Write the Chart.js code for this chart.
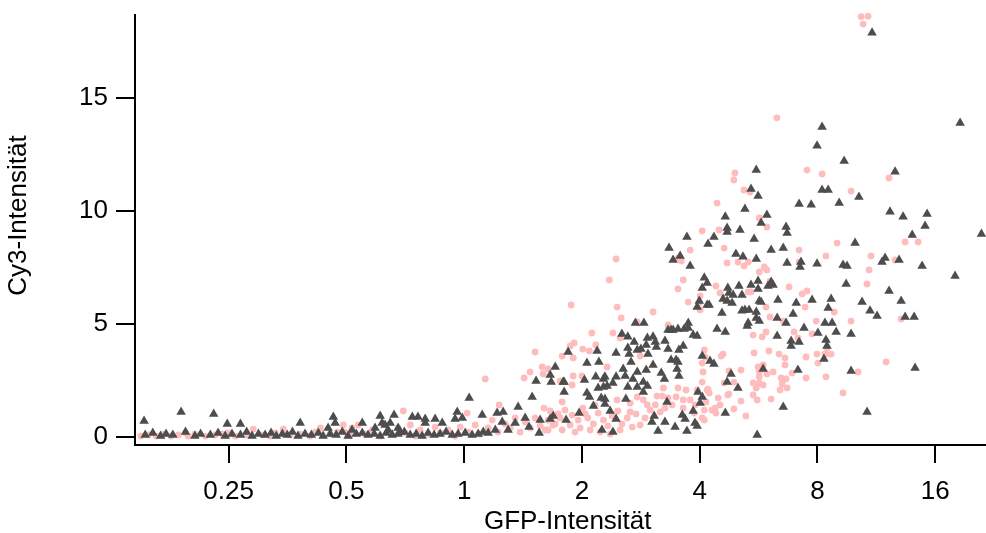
<!DOCTYPE html>
<html>
<head>
<meta charset="utf-8">
<script src="https://cdn.jsdelivr.net/npm/chart.js@4.4.1/dist/chart.umd.min.js"></script>
<style>
  body { margin: 0; background: #fff; }
  #wrap { width: 986px; height: 533px; }
</style>
</head>
<body>
<div id="wrap"><canvas id="scatterChart" width="986" height="533"></canvas></div>
<script>
// GFP (x) / Cy3 (y) pairs
const trianglePoints = [
  [0.152,0.71],[0.189,1.11],[0.229,1.02],[0.248,0.58],[0.268,0.58],[0.381,0.62],[0.463,0.89],[0.468,0.62],[0.449,0.40],[0.517,0.31],
  [0.153,0.09],[0.160,0.18],[0.1675,0.04],[0.173,0.13],[0.180,0.09],[0.194,0.22],[0.205,0.04],[0.212,0.13],[0.2245,0.09],[0.235,0.18],
  [0.245,0.04],[0.255,0.13],[0.268,0.09],[0.278,0.22],[0.287,0.04],[0.298,0.13],[0.310,0.09],[0.321,0.18],[0.331,0.04],[0.343,0.13],
  [0.353,0.09],[0.364,0.22],[0.376,0.04],[0.392,0.13],[0.407,0.09],[0.424,0.18],[0.436,0.04],[0.4545,0.13],[0.471,0.09],[0.488,0.22],
  [0.505,0.04],[0.530,0.13],
  [0.549,0.62],[0.610,0.93],[0.662,0.97],[0.617,0.62],[0.628,0.53],[0.647,0.62],[0.737,0.89],[0.762,0.89],[0.795,0.80],[0.795,0.62],
  [0.843,0.80],[0.879,0.62],[0.960,1.11],[0.948,0.80],[0.989,0.84],[1.030,1.73],[1.112,0.97],[1.214,1.06],[1.258,1.11],[1.251,0.66],
  [1.374,1.33],[1.350,0.62],[1.432,0.84],[1.492,1.77],[1.564,0.75],[1.689,0.93],[1.659,0.80],[1.801,1.99],[1.822,0.75],[1.527,2.48],
  [1.669,2.43],[1.791,2.43],[1.555,0.18],[1.465,0.44],[1.295,0.31],[1.119,0.22],[1.201,0.31],
  [0.549,0.18],[0.568,0.09],[0.589,0.13],[0.610,0.04],[0.632,0.18],[0.655,0.09],[0.678,0.13],[0.703,0.22],[0.728,0.09],[0.754,0.13],
  [0.781,0.04],[0.809,0.18],[0.838,0.09],[0.868,0.13],[0.899,0.22],[0.932,0.09],[0.965,0.13],[1.006,0.18],[1.048,0.09],[1.086,0.13],
  [1.152,0.18],[0.592,0.40],[0.639,0.31],[0.678,0.40],[0.686,0.22],
  [1.709,3.10],[1.659,2.74],
  [3.99,6.02],[4.18,5.84],[4.23,5.84],[3.94,5.75],[4.43,4.78],[2.74,5.04],[2.88,5.04],[3.32,4.73],[3.38,4.73],[3.42,4.73],
  [3.52,4.78],[3.65,4.78],[3.74,5.04],[3.85,4.51],[3.94,4.47],[2.53,4.56],[2.62,4.43],[2.72,4.20],[2.94,4.38],[3.04,4.43],
  [3.08,4.20],[3.26,4.25],[1.844,3.76],[2.187,3.81],[2.445,3.72],[2.62,3.94],[2.64,3.67],[2.77,3.85],[2.83,3.89],[2.92,4.07],
  [2.95,3.67],[3.10,3.98],[3.32,3.89],[3.54,3.85],[3.63,4.03],[4.06,3.58],[2.06,3.27],[2.21,3.32],[2.67,3.32],[3.38,3.41],
  [3.48,3.41],[3.52,3.32],[4.25,3.36],[4.35,3.23],[2.55,3.01],[2.77,2.88],[2.92,2.96],[3.04,3.19],[3.19,2.83],[3.50,3.01],
  [2.03,2.52],[2.17,2.66],[2.27,2.57],[2.29,2.66],[2.445,2.66],[2.58,2.70],[2.70,2.57],[3.25,2.57],[3.54,2.70],[1.801,2.43],
  [2.20,2.17],[2.27,2.21],[2.32,2.26],[2.40,2.39],[2.62,2.21],[2.77,2.21],[2.87,2.43],[2.94,2.26],[2.06,1.95],[2.09,1.77],
  [2.24,1.73],[2.29,1.68],[2.59,1.68],[2.87,1.99],[3.30,1.55],[4.06,1.77],[4.01,1.50],[2.14,1.37],[2.29,1.46],[2.361,1.15],
  [1.967,1.06],[2.445,0.80],[3.06,0.93],[3.02,0.66],[3.26,0.66],[3.61,0.97],[3.67,0.80],[3.85,1.15],[3.89,0.62],[3.46,0.44],
  [3.71,0.27],[3.13,0.27],[2.25,0.31],[2.40,0.22],
  [4.11,7.04],[4.06,6.59],[4.18,6.81],[3.34,8.36],[3.42,7.83],[3.71,8.85],[3.565,8.01],[3.781,7.57],
  [5.22,10.09],[7.18,10.31],[7.71,10.27],[4.65,9.74],[5.94,9.82],[5.74,9.47],[4.70,9.25],[4.70,9.07],[5.07,9.16],[6.65,9.29],
  [6.69,9.03],[4.35,8.85],[4.20,8.54],[5.51,8.76],[6.09,8.27],[6.54,8.36],[4.95,8.10],[5.16,7.97],[5.58,7.88],[6.69,7.70],
  [7.26,7.74],[7.22,7.52],[7.98,7.66],[5.64,6.90],[5.41,6.73],[5.64,6.55],[6.09,6.86],[6.16,6.73],[5.98,6.68],[4.72,6.59],
  [4.75,6.37],[4.87,6.28],[5.04,6.68],[5.13,6.28],[4.59,6.11],[4.70,6.02],[4.84,5.93],[5.68,6.02],[5.74,5.97],[6.34,6.06],
  [7.06,5.93],[7.75,6.06],[8.67,6.11],[8.52,5.71],[5.13,5.58],[5.22,5.62],[5.35,5.62],[5.58,5.53],[4.56,5.49],[6.93,5.44],
  [5.58,5.27],[5.68,5.13],[6.31,5.27],[5.32,5.04],[5.29,4.91],[6.65,5.04],[7.39,4.82],[8.36,5.04],[8.72,5.04],[8.93,4.65],
  [3.74,4.82],[4.65,4.65],[6.31,4.47],[8.02,4.60],[6.85,4.25],[7.18,4.20],[6.85,4.03],[8.41,4.29],[8.46,4.03],[8.31,3.45],
  [7.13,2.96],[5.81,3.01],[4.81,2.79],[4.70,2.43],[5.01,2.17],[3.96,1.99],[4.65,1.06],[3.94,0.49],[6.54,1.33],[5.61,0.09],
  [8.22,13.72],[18.52,13.89],[9.36,12.21],[12.63,11.73],[8.22,10.93],[8.52,10.93],[10.21,10.62],[9.09,10.35],[12.26,9.96],[13.24,9.74],
  [15.25,9.87],[15.07,9.34],[13.97,8.94],[21.0,8.98],[9.98,8.58],[9.30,7.61],[9.52,7.57],[11.91,7.92],[11.70,7.74],[12.93,7.83],
  [14.81,7.57],[17.98,7.12],[9.47,6.77],[12.19,6.46],[13.09,6.02],[10.40,5.97],[10.90,5.58],[11.36,5.35],[13.40,5.31],[14.13,5.31],
  [9.75,4.56],[9.75,2.92],[14.21,3.05],[10.71,1.11],
  [11.03,17.88],[7.98,12.88],[5.58,11.81],[5.41,10.97],[5.64,10.66]
];

const circlePoints = [
  [0.149,0.04],[0.156,0.09],[0.163,0.04],[0.171,0.13],[0.178,0.04],[0.186,0.09],[0.197,0.04],[0.205,0.13],[0.218,0.04],[0.231,0.09],
  [0.241,0.13],[0.260,0.04],[0.276,0.09],[0.289,0.35],[0.305,0.09],[0.319,0.04],[0.345,0.35],[0.359,0.09],[0.381,0.13],[0.404,0.04],
  [0.429,0.40],[0.4545,0.13],[0.491,0.53],[0.511,0.09],[0.536,0.53],[0.194,0.18],[0.249,0.18],[0.329,0.18],[0.416,0.22],[0.474,0.22],
  [1.229,1.42],[1.60,1.28],[1.78,1.55],[1.659,1.15],[1.018,1.06],[0.699,1.15],
  [0.497,0.22],[0.517,0.40],[0.559,0.13],[0.582,0.31],[0.610,0.04],[0.647,0.22],[0.678,0.40],[0.707,0.18],[0.728,0.53],[0.750,0.04],
  [0.772,0.31],[0.809,0.13],[0.843,0.44],[0.868,0.18],[0.910,0.31],[0.948,0.04],[0.977,0.44],[1.024,0.22],[1.067,0.53],[1.099,0.13],
  [1.152,0.40],[1.180,0.75],[1.221,0.22],[1.273,0.58],[1.311,0.40],[1.350,0.84],[1.390,0.22],[1.432,0.66],[1.474,0.40],[1.518,0.84],
  [1.564,0.49],[1.611,0.31],[1.639,0.75],[1.709,0.58],[1.738,1.02],[1.78,0.31],
  [1.518,3.76],[1.132,2.57],[1.474,2.88],[1.583,3.10],[1.639,3.01],[1.592,2.79],[1.423,2.61],[1.759,2.48],
  [2.35,6.95],[1.877,5.84],[2.46,5.75],[2.52,5.27],[3.04,5.53],[3.63,6.95],[3.52,6.55],[3.74,5.97],[4.01,6.24],[3.99,5.93],
  [2.12,4.60],[2.40,4.60],[2.504,4.38],[2.77,5.09],[3.32,4.96],[1.866,4.03],[1.91,4.16],[2.01,3.89],[2.09,3.81],[2.17,4.07],
  [1.78,3.58],[1.90,3.50],[2.817,3.58],[4.11,3.85],[1.90,2.70],[2.00,2.70],[1.888,2.30],[2.32,3.10],[3.23,2.17],[3.11,1.81],
  [3.21,1.81],[3.32,1.73],[3.48,1.77],[3.52,2.17],[3.69,2.08],[3.94,2.08],[4.18,2.08],[4.08,2.88],[4.06,2.43],[4.06,3.27],
  [4.13,3.54],[2.46,1.64],[2.656,1.50],[2.77,1.77],[2.94,1.42],[3.08,1.42],[4.11,1.19],[4.38,1.28],[4.51,1.42],
  [3.781,8.27],[2.445,7.88],[3.52,7.92],[3.59,7.79],
  [1.81,1.19],[1.888,0.97],[1.956,0.75],[2.01,1.28],[2.07,0.84],[2.14,0.58],[2.20,1.06],[2.27,0.75],[2.33,0.49],[2.39,0.93],
  [2.47,1.15],[2.53,0.58],[2.61,0.84],[2.69,0.44],[2.75,1.02],[1.759,0.84],[1.866,0.53],[1.979,0.40],[2.099,0.31],[2.226,0.22],
  [2.361,0.13],[2.504,0.31],[2.04,1.02],[2.16,1.42],[1.689,0.53],[2.90,0.84],[2.988,1.19],[3.169,1.11],[3.26,1.28],[3.40,1.42],
  [2.817,0.53],[2.656,1.11],[1.92,0.22],[1.639,0.31],[2.87,1.64],[3.781,1.64],[3.89,1.42],[3.63,1.28],
  [4.43,10.35],[5.68,9.69],[5.94,9.29],[4.06,9.12],[4.48,9.16],[4.72,9.12],[8.98,8.58],[4.62,8.36],[7.18,8.27],[5.01,7.74],
  [5.19,7.57],[5.32,7.74],[4.70,7.70],[5.85,7.52],[5.94,7.39],[5.68,7.30],[7.18,7.74],[8.41,8.01],[4.40,6.68],[4.51,6.37],
  [6.05,6.90],[6.77,6.64],[5.32,6.42],[5.41,6.42],[7.31,6.33],[7.52,6.46],[7.44,5.75],[5.91,5.75],[4.01,5.62],[8.83,5.53],
  [6.05,5.31],[6.54,5.13],[7.94,5.13],[5.91,4.65],[6.97,4.65],[7.75,4.56],[5.48,4.51],[5.78,4.43],[7.13,4.38],[4.54,3.58],
  [4.59,3.67],[5.51,3.72],[6.01,3.81],[6.38,3.67],[6.61,3.50],[6.61,3.19],[7.48,3.54],[7.98,3.67],[8.02,3.27],[8.41,3.67],
  [8.67,3.67],[4.75,2.92],[4.89,2.43],[5.10,2.96],[5.64,3.10],[5.81,3.19],[5.68,2.88],[5.94,2.79],[5.68,2.66],[5.68,2.39],
  [6.16,2.88],[6.46,2.61],[6.65,2.57],[6.50,2.35],[6.42,2.08],[6.69,2.17],[6.89,2.83],[7.48,2.61],[8.41,2.66],[4.62,2.39],
  [5.48,2.39],[5.58,2.17],[5.81,2.30],[4.20,2.12],[4.23,1.95],[4.75,1.90],[5.48,1.86],[5.61,1.64],[6.09,1.68],[4.46,1.73],
  [3.63,1.64],[5.10,1.59],[4.15,1.55],[4.30,1.19],[4.40,1.06],[4.89,1.24],[5.25,0.93],[3.87,1.06],[4.06,0.84],[4.11,0.75],
  [4.72,1.86],
  [8.22,11.64],[12.19,11.46],[9.75,10.88],[13.40,8.63],[14.46,8.63],[10.96,8.01],[12.63,7.83],[10.84,7.39],[10.71,6.77],[9.75,5.13],
  [13.09,5.22],[8.46,3.94],[8.36,3.67],[11.98,3.32],[10.16,2.88],[9.30,1.95],
  [10.34,18.6],[10.77,18.62],[10.47,18.27],[6.30,14.12],[4.92,11.68],[4.89,11.37],[5.19,10.93],[5.38,10.84],[7.52,11.81]
];

const xTicks = [0.25, 0.5, 1, 2, 4, 8, 16];
const yTicks = [0, 5, 10, 15];

const toXY = (pts) => pts.map(p => ({ x: p[0], y: p[1] }));

const fontFamily = "'Liberation Sans', Arial, sans-serif";
const tickFont = { family: fontFamily, size: 26 };

const ctx = document.getElementById('scatterChart').getContext('2d');
const chart = new Chart(ctx, {
    type: 'scatter',
    data: {
        datasets: [{
            label: 'Dreiecke',
            data: toXY(trianglePoints),
            pointStyle: 'triangle',
            pointRadius: 5.5,
            pointHoverRadius: 5.5,
            backgroundColor: '#4d4d4d',
            borderWidth: 0,
            clip: false
        }, {
            label: 'Kreise',
            data: toXY(circlePoints),
            pointStyle: 'circle',
            pointRadius: 3.4,
            pointHoverRadius: 3.4,
            backgroundColor: 'rgb(255,188,188)',
            borderWidth: 0,
            clip: false
        }]
    },
    options: {
        responsive: false,
        animation: false,
        layout: { autoPadding: false, padding: { top: 15, right: 0, bottom: 0, left: 0 } },
        plugins: {
            legend: { display: false },
            tooltip: { enabled: false }
        },
        scales: {
            x: {
                type: 'logarithmic',
                min: 0.1441,
                max: 21.57,
                afterBuildTicks: (scale) => { scale.ticks = xTicks.map(v => ({ value: v })); },
                afterFit: (scale) => {
                    scale.height = 88;
                    scale.paddingLeft = 0;
                    scale.paddingRight = 0;
                },
                ticks: {
                    autoSkip: false,
                    maxRotation: 0,
                    padding: 13,
                    color: '#000',
                    font: tickFont,
                    callback: (value) => String(value)
                },
                grid: {
                    display: true,
                    drawOnChartArea: false,
                    drawTicks: true,
                    tickLength: 18,
                    color: '#000',
                    lineWidth: 2
                },
                border: { display: true, color: '#000', width: 2 },
                title: {
                    display: true,
                    text: '  GFP-Intensität',
                    color: '#000',
                    font: { family: fontFamily, size: 26, lineHeight: 0.85 },
                    padding: 0
                }
            },
            y: {
                type: 'linear',
                min: -0.354,
                max: 18.67,
                afterBuildTicks: (scale) => { scale.ticks = yTicks.map(v => ({ value: v })); },
                afterFit: (scale) => {
                    scale.width = 135;
                    scale.paddingTop = 0;
                    scale.paddingBottom = 0;
                },
                ticks: {
                    padding: 8,
                    color: '#000',
                    font: tickFont
                },
                grid: {
                    display: true,
                    drawOnChartArea: false,
                    drawTicks: true,
                    tickLength: 19,
                    color: '#000',
                    lineWidth: 2
                },
                border: { display: true, color: '#000', width: 2 },
                title: {
                    display: true,
                    text: '    Cy3-Intensität',
                    color: '#000',
                    font: { family: fontFamily, size: 26 },
                    padding: { top: 3, bottom: 0 }
                }
            }
        }
    }
});
</script>
</body>
</html>
